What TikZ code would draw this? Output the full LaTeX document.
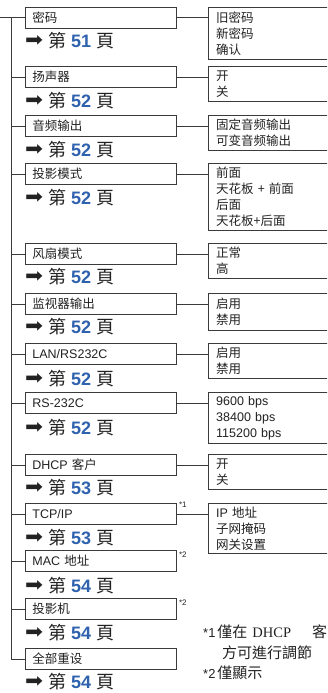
\documentclass[tikz,border=0pt]{standalone}
\usepackage{fontspec}
\setmainfont{Liberation Sans}
\newfontfamily\cjk{Noto Sans CJK SC}
\newfontfamily\cjktc{Noto Sans CJK TC}
\newfontfamily\symb{DejaVu Sans}
\newfontfamily\serifrm{Liberation Serif}
\usetikzlibrary{positioning}
\definecolor{ink}{HTML}{222222}
\definecolor{rule}{HTML}{3A3A3A}
\definecolor{pageblue}{HTML}{2F62AE}
\newcommand\lat[1]{{\normalfont #1}}
\newcommand\seepage[1]{\raisebox{1pt}{\resizebox{18pt}{11pt}{\symb ➡}}\hspace{5pt}{\cjktc 第} {\bfseries\color{pageblue}#1} {\cjktc 頁}}

\begin{document}
\begin{tikzpicture}[x=1pt,y=1pt,
lbox/.style={draw=rule,line width=.8pt,fill=white,anchor=north west,minimum width=151pt,minimum height=21pt,text width=137pt,inner xsep=7pt,inner ysep=0pt,align=left,font=\fontsize{12.5}{15}\selectfont\cjk,text=ink},
rbox/.style={draw=rule,line width=.8pt,fill=white,minimum height=#1,text width=160pt,inner xsep=8pt,inner ysep=0pt,align=left,font=\fontsize{12.5}{16}\selectfont\cjk,text=ink},
pg/.style={anchor=west,inner sep=0pt,font=\fontsize{18}{18}\selectfont,text=ink},
note/.style={anchor=west,inner sep=0pt,font=\fontsize{8}{8}\selectfont,text=ink},
foot/.style={anchor=west,inner sep=0pt,font=\fontsize{15}{15}\selectfont\cjktc,text=ink},
wire/.style={draw=rule,line width=.8pt}]
\useasboundingbox (0,0) rectangle (327,-693);
\clip (0,0) rectangle (327,-693);
% menu items
\node[lbox](s1) at (25,-7){密码};
\node[lbox](s2) at (25,-66){扬声器};
\node[lbox](s3) at (25,-115){音频输出};
\node[lbox](s4) at (25,-163){投影模式};
\node[lbox](s5) at (25,-243){风扇模式};
\node[lbox](s6) at (25,-293){监视器输出};
\node[lbox](s7) at (25,-343){\lat{LAN/RS232C}};
\node[lbox](s8) at (25,-392){\lat{RS-232C}};
\node[lbox](s9) at (25,-454){\lat{DHCP} 客户};
\node[lbox](s10) at (25,-503){\lat{TCP/IP}};
\node[lbox](s11) at (25,-550){\lat{MAC} 地址};
\node[lbox](s12) at (25,-598){投影机};
\node[lbox](s13) at (25,-648){全部重设};
% page references
\node[pg](p1) at ([yshift=-12pt]s1.south west){\seepage{51}};
\node[pg](p2) at ([yshift=-13pt]s2.south west){\seepage{52}};
\node[pg](p3) at ([yshift=-13pt]s3.south west){\seepage{52}};
\node[pg](p4) at ([yshift=-13pt]s4.south west){\seepage{52}};
\node[pg](p5) at ([yshift=-12pt]s5.south west){\seepage{52}};
\node[pg](p6) at ([yshift=-12pt]s6.south west){\seepage{52}};
\node[pg](p7) at ([yshift=-14pt]s7.south west){\seepage{52}};
\node[pg](p8) at ([yshift=-14pt]s8.south west){\seepage{52}};
\node[pg](p9) at ([yshift=-12pt]s9.south west){\seepage{53}};
\node[pg](p10) at ([yshift=-13pt]s10.south west){\seepage{53}};
\node[pg](p11) at ([yshift=-14pt]s11.south west){\seepage{54}};
\node[pg](p12) at ([yshift=-13pt]s12.south west){\seepage{54}};
\node[pg](p13) at ([yshift=-12pt]s13.south west){\seepage{54}};
% settings
\node[rbox=52pt,right=31pt of s1.north east,anchor=north west](r1){旧密码\\新密码\\确认};
\node[rbox=35pt,right=31pt of s2.north east,anchor=north west](r2){开\\关};
\node[rbox=35pt,right=31pt of s3.north east,anchor=north west](r3){固定音频输出\\可变音频输出};
\node[rbox=67pt,right=31pt of s4.north east,anchor=north west](r4){前面\\天花板 + 前面\\后面\\天花板+后面};
\node[rbox=35pt,right=31pt of s5.north east,anchor=north west](r5){正常\\高};
\node[rbox=37pt,right=31pt of s6.north east,anchor=north west](r6){启用\\禁用};
\node[rbox=35pt,right=31pt of s7.north east,anchor=north west](r7){启用\\禁用};
\node[rbox=51pt,right=31pt of s8.north east,anchor=north west](r8){\lat{9600 bps}\\\lat{38400 bps}\\\lat{115200 bps}};
\node[rbox=35pt,right=31pt of s9.north east,anchor=north west](r9){开\\关};
\node[rbox=50pt,right=31pt of s10.north east,anchor=north west](r10){\lat{IP} 地址\\子网掩码\\网关设置};
\draw[wire](s1.east)--(s1.east-|r1.west);\draw[wire](s2.east)--(s2.east-|r2.west);
\draw[wire](s3.east)--(s3.east-|r3.west);\draw[wire](s4.east)--(s4.east-|r4.west);
\draw[wire](s5.east)--(s5.east-|r5.west);\draw[wire](s6.east)--(s6.east-|r6.west);
\draw[wire](s7.east)--(s7.east-|r7.west);\draw[wire](s8.east)--(s8.east-|r8.west);
\draw[wire](s9.east)--(s9.east-|r9.west);\draw[wire](s10.east)--(s10.east-|r10.west);
% tree
\coordinate(o) at (0,0);\coordinate(t) at (11,0);
\coordinate(in) at (s1.west-|o);
\draw[wire](in)--(s1.west);\draw[wire](s1.west-|t)|-(s13.west);
\draw[wire](s2.west-|t)--(s2.west);\draw[wire](s3.west-|t)--(s3.west);\draw[wire](s4.west-|t)--(s4.west);
\draw[wire](s5.west-|t)--(s5.west);\draw[wire](s6.west-|t)--(s6.west);\draw[wire](s7.west-|t)--(s7.west);
\draw[wire](s8.west-|t)--(s8.west);\draw[wire](s9.west-|t)--(s9.west);\draw[wire](s10.west-|t)--(s10.west);
\draw[wire](s11.west-|t)--(s11.west);\draw[wire](s12.west-|t)--(s12.west);
% notes
\node[note](m1) at ([shift={(2pt,-2pt)}]s10.north east){*1};
\node[note](m2) at ([shift={(2pt,-5pt)}]s11.north east){*2};
\node[note](m3) at ([shift={(2pt,-5pt)}]s12.north east){*2};
\node[foot](f1) at (203,-632){{\normalfont\fontsize{13}{13}\selectfont *1}\hspace{2pt}僅在\hspace{5pt}{\serifrm\fontsize{14.5}{14.5}\selectfont DHCP}\hspace{21pt}客};
\node[foot](f2) at (222,-653){方可進行調節};
\node[foot](f3) at (203,-673){{\normalfont\fontsize{13}{13}\selectfont *2}\hspace{2pt}僅顯示};
\end{tikzpicture}
\end{document}
